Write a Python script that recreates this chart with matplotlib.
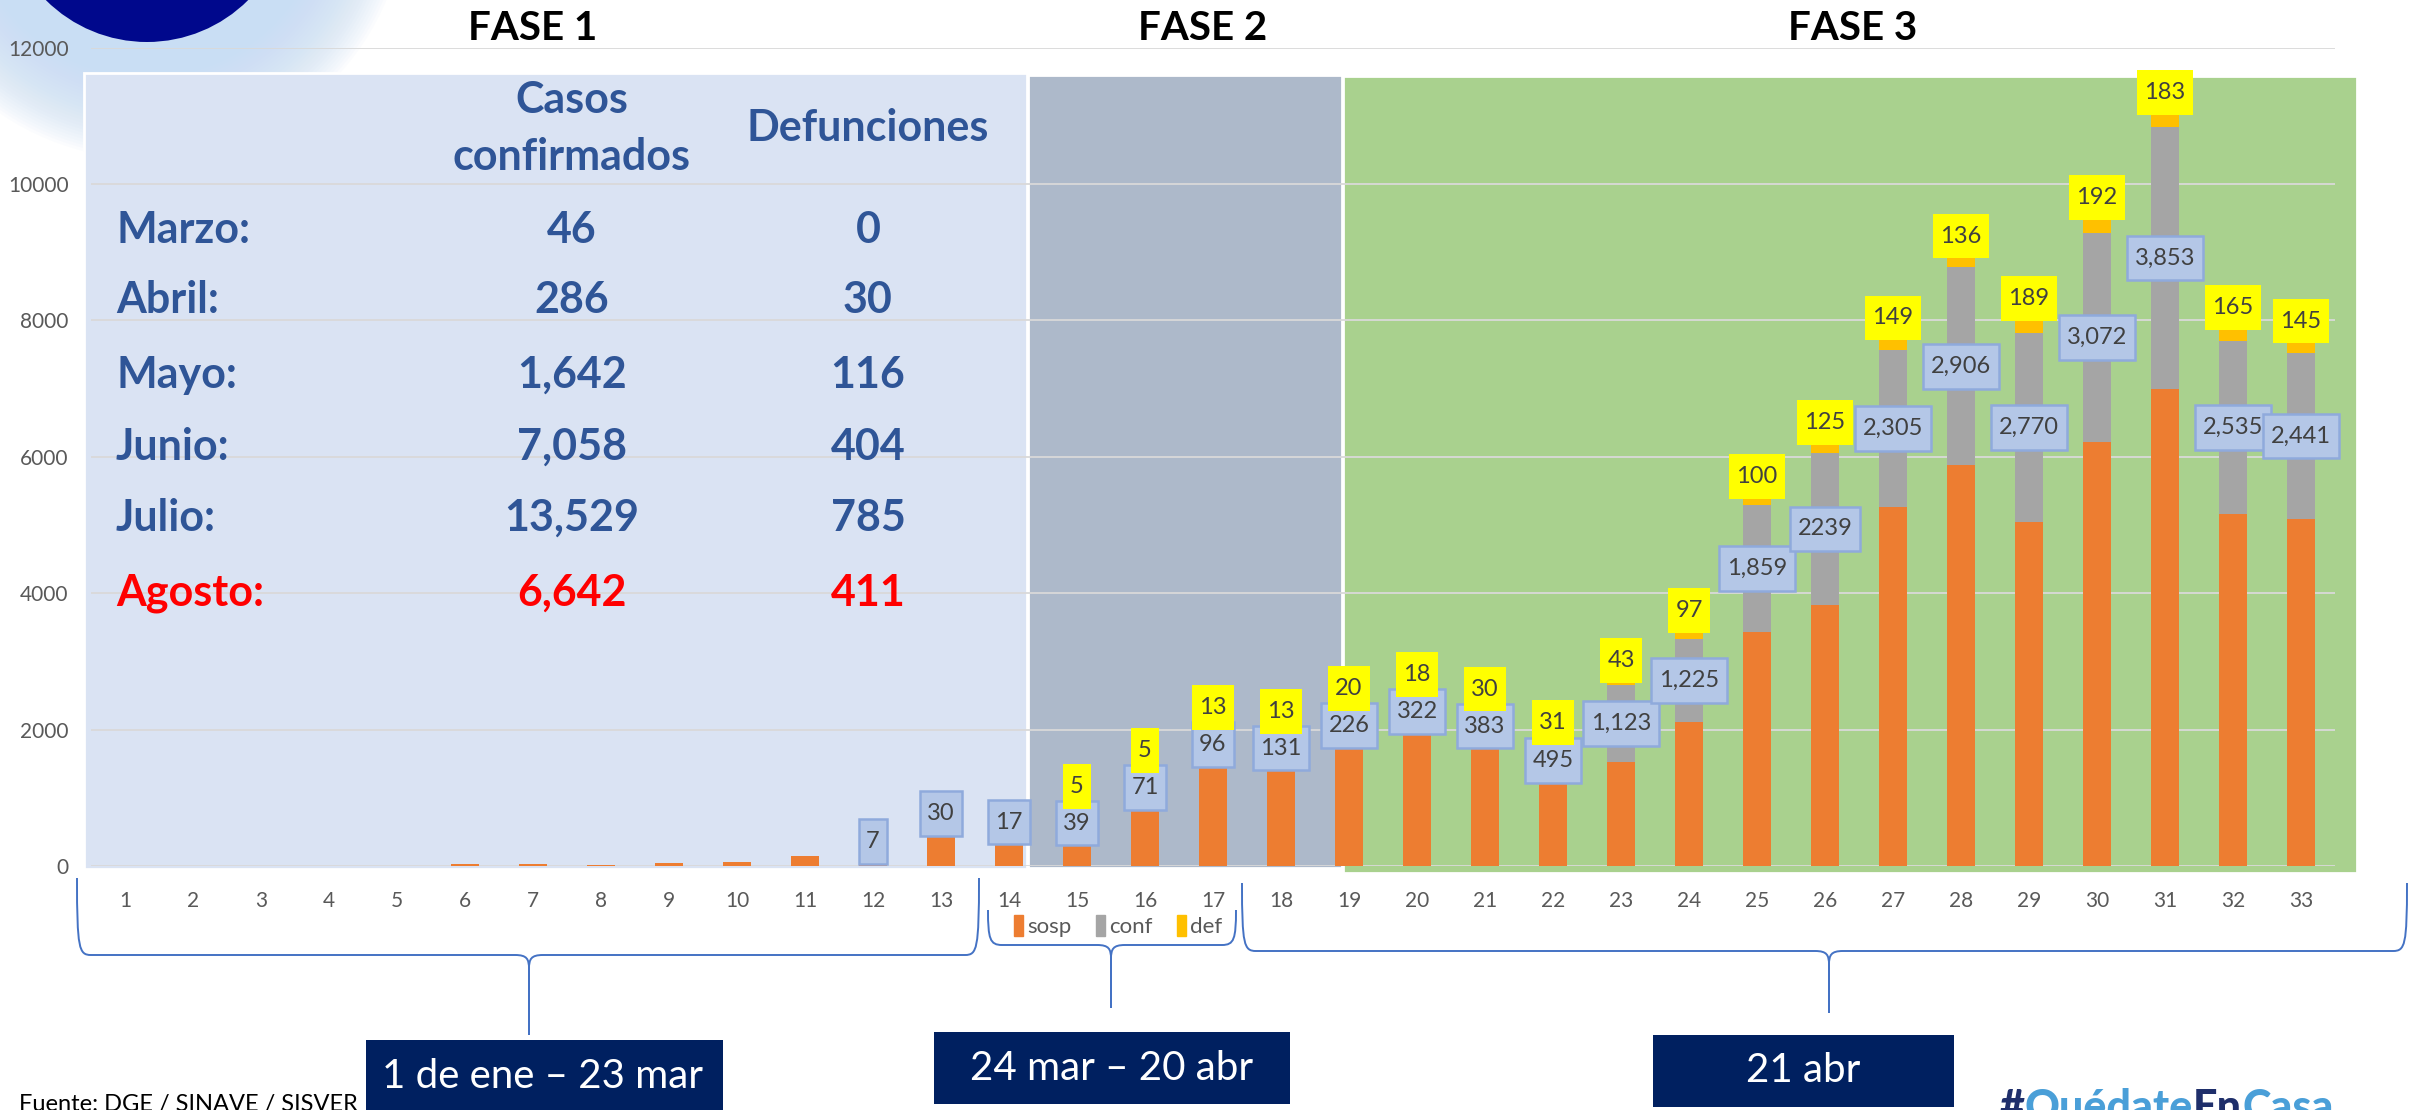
import matplotlib
matplotlib.use("Agg")
import matplotlib.pyplot as plt
from matplotlib.patches import Rectangle, Circle, Patch, PathPatch
from matplotlib.path import Path

plt.rcParams["font.family"] = ["Lato", "DejaVu Sans"]

W, H = 2420, 1110

# Datos de la grafica (semanas epidemiologicas)
semanas = [1, 2, 3, 4, 5, 6, 7, 8, 9, 10, 11, 12, 13, 14, 15, 16, 17,
           18, 19, 20, 21, 22, 23, 24, 25, 26, 27, 28, 29, 30, 31, 32, 33]
sosp = [0, 0, 5, 5, 5, 25, 25, 15, 40, 55, 150, 70, 483, 355, 340, 860, 1494,
        1440, 1773, 1978, 1763, 1260, 1528, 2109, 3430, 3824, 5263, 5875,
        5044, 6216, 6990, 5167, 5084]
conf = [0, 0, 0, 0, 0, 0, 0, 0, 0, 0, 0, 7, 30, 17, 39, 71, 96,
        131, 226, 322, 383, 495, 1123, 1225, 1859, 2239, 2305, 2906,
        2770, 3072, 3853, 2535, 2441]
defu = [0, 0, 0, 0, 0, 0, 0, 0, 0, 0, 0, 0, 0, 0, 5, 5, 13,
        13, 20, 18, 30, 31, 43, 97, 100, 125, 149, 136,
        189, 192, 183, 165, 145]
sin_coma = [26]  # etiqueta escrita sin separador de miles

# Tabla resumen
meses = ["Marzo:", "Abril:", "Mayo:", "Junio:", "Julio:", "Agosto:"]
casos = [46, 286, 1642, 7058, 13529, 6642]
defunciones = [0, 30, 116, 404, 785, 411]

fases = ["FASE 1", "FASE 2", "FASE 3"]
periodos = ["1 de ene \u2013 23 mar", "24 mar \u2013 20 abr", "21 abr"]

fig = plt.figure(figsize=(W / 100, H / 100), dpi=100)

# Capa de fondo en pixeles
bg = fig.add_axes([0, 0, 1, 1], zorder=0)
bg.set_xlim(0, W)
bg.set_ylim(H, 0)
bg.axis("off")

# Resplandor y circulo del logo
for k in range(0, 120, 3):
    bg.add_patch(Circle((147, -101), 143 + k, color="#C9DEF4", alpha=0.07, lw=0))
bg.add_patch(Circle((147, -101), 143, color="#00088C", lw=0))

# Paneles de cada fase
paneles = [(84, 73, 1027, 869, "#DAE3F3"),
           (1028, 75, 1342, 868, "#ADB9CA"),
           (1343, 76, 2357, 873, "#A9D18E")]
for x0, y0, x1, y1, col in paneles:
    bg.add_patch(Rectangle((x0, y0), x1 - x0, y1 - y0, fc=col, ec="white", lw=2))


def llave(xl, xr, ytop, yh, xc, ytip, r=14):
    """Dibuja una llave horizontal que apunta hacia abajo"""
    for xe, s in ((xl, 1), (xr, -1)):
        verts = [(xe, ytop), (xe, yh - 6), (xe + s * 2, yh), (xe + s * r, yh),
                 (xc - s * r, yh), (xc - s * 2, yh), (xc, yh + 4), (xc, yh + r),
                 (xc, ytip)]
        codes = [Path.MOVETO, Path.CURVE4, Path.CURVE4, Path.CURVE4,
                 Path.LINETO, Path.CURVE4, Path.CURVE4, Path.CURVE4,
                 Path.LINETO]
        bg.add_patch(PathPatch(Path(verts, codes), fc="none", ec="#4472C4", lw=1.4))


def caja(x0, y0, width, height, mutation_size):
    """Caja rectangular con mas relleno vertical que horizontal"""
    ph = 0.32 * mutation_size
    pv = 0.5 * mutation_size
    return Path([(x0 - ph, y0 - pv), (x0 + width + ph, y0 - pv),
                 (x0 + width + ph, y0 + height + pv), (x0 - ph, y0 + height + pv),
                 (x0 - ph, y0 - pv)], closed=True)


llave(77, 979, 878, 955, 529, 1035)
llave(988, 1236, 910, 945, 1111, 1008)
llave(1242, 2407, 883, 951, 1829, 1013)

# Eje principal
ax = fig.add_axes([91 / W, (H - 866) / H, 2244 / W, 818.3 / H], zorder=1)
ax.set_facecolor("none")
x = semanas
bottom_def = [s + c for s, c in zip(sosp, conf)]
ax.bar(x, sosp, width=0.4, color="#ED7D31", zorder=2)
ax.bar(x, conf, width=0.4, bottom=sosp, color="#A5A5A5", zorder=2)
ax.bar(x, defu, width=0.4, bottom=bottom_def, color="#FFC000", zorder=2)

ax.set_xlim(0.5, 33.5)
ax.set_ylim(0, 12000)
ax.set_xticks(x)
ax.set_xticklabels([str(s) for s in semanas])
ax.set_yticks(range(0, 12001, 2000))
ax.tick_params(axis="both", length=0, labelsize=15, labelcolor="#595959")
ax.tick_params(axis="x", pad=18)
ax.tick_params(axis="y", pad=16)
for sp in ax.spines.values():
    sp.set_visible(False)
ax.grid(axis="y", color="#D9D9D9", lw=1.3)
ax.set_axisbelow(True)

# Etiquetas de datos
medio = 290
for i, s in enumerate(semanas):
    c = None
    if conf[i] > 0:
        c = max(sosp[i] + conf[i] / 2, sosp[i] + medio)
        txt = f"{conf[i]}" if s in sin_coma else f"{conf[i]:,}"
        ax.text(s, c, txt, ha="center", va="center", fontsize=17, color="#404040",
                zorder=4, bbox=dict(boxstyle=caja, fc="#B4C7E7",
                                    ec="#8FAADC", lw=1.8))
    if defu[i] > 0:
        total = sosp[i] + conf[i] + defu[i]
        base = total + 30
        if c is not None:
            base = max(base, c + medio - 40)
        ax.text(s, base + medio, f"{defu[i]}", ha="center", va="center",
                fontsize=17, color="#404040", zorder=5,
                bbox=dict(boxstyle=caja, fc="#FFFF00", ec="none"))

fig.legend([Patch(color="#ED7D31"), Patch(color="#A5A5A5"), Patch(color="#FFC000")],
           ["sosp", "conf", "def"], loc="center", bbox_to_anchor=(1118 / W, 1 - 926 / H),
           ncol=3, frameon=False, fontsize=16, handlelength=0.4, handleheight=1.1,
           handletextpad=0.2, columnspacing=1.1, labelcolor="#595959")

# Capa superior para textos
ov = fig.add_axes([0, 0, 1, 1], zorder=5)
ov.set_xlim(0, W)
ov.set_ylim(H, 0)
ov.axis("off")
ov.set_facecolor("none")

for nombre, xc in zip(fases, [533, 1203, 1853]):
    ov.text(xc, 28, nombre, ha="center", va="center", fontsize=29,
            fontweight="bold", color="black")

azul = "#2F5597"
ov.text(572, 100, "Casos", ha="center", va="center", fontsize=31, fontweight="bold", color=azul)
ov.text(572, 157, "confirmados", ha="center", va="center", fontsize=31, fontweight="bold", color=azul)
ov.text(868, 128, "Defunciones", ha="center", va="center", fontsize=31, fontweight="bold", color=azul)
filas_y = [230, 300, 375, 447, 518, 593]
for mes, cs, df, yy in zip(meses, casos, defunciones, filas_y):
    col = "#FF0000" if mes == "Agosto:" else azul
    ov.text(116, yy, mes, ha="left", va="center", fontsize=31, fontweight="bold", color=col)
    ov.text(572, yy, f"{cs:,}", ha="center", va="center", fontsize=31, fontweight="bold", color=col)
    ov.text(868, yy, f"{df:,}", ha="center", va="center", fontsize=31, fontweight="bold", color=col)

# Cajas de periodos
cajas = [(366, 1040, 723, 1125, 543, 1077),
         (934, 1032, 1290, 1104, 1112, 1068),
         (1653, 1035, 1954, 1107, 1803, 1071)]
for (x0, y0, x1, y1, tx, ty), txt in zip(cajas, periodos):
    ov.add_patch(Rectangle((x0, y0), x1 - x0, y1 - y0, fc="#002060", ec="none"))
    ov.text(tx, ty, txt, ha="center", va="center", fontsize=29, color="white")

ov.text(19, 1094, "Fuente: DGE / SINAVE / SISVER", ha="left", va="top",
        fontsize=17, color="black")

# Logo de texto
renderer = fig.canvas.get_renderer()
xpos = 2000
for parte, col in [("#", "#1F2F6B"), ("Qu\u00e9date", "#4A9FD8"),
                   ("En", "#1F2F6B"), ("Casa", "#4A9FD8")]:
    t = ov.text(xpos, 1088, parte, ha="left", va="top", fontsize=31,
                fontweight="black", color=col)
    xpos += t.get_window_extent(renderer).width

fig.savefig("out.png", dpi=100)
